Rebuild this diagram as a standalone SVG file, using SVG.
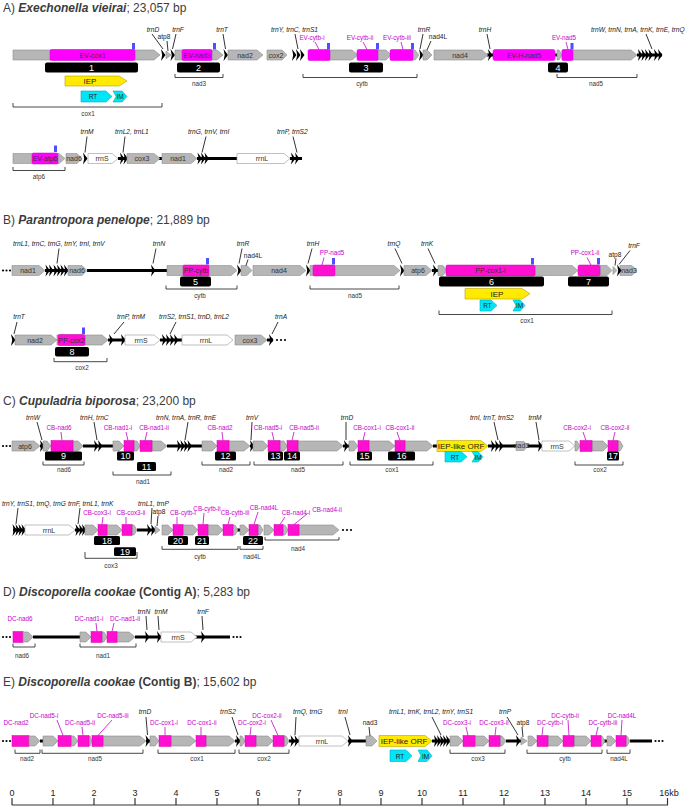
<svg xmlns="http://www.w3.org/2000/svg" width="685" height="807" viewBox="0 0 685 807">
<style>
text{font-family:"Liberation Sans",Arial,Helvetica,sans-serif}
.ti{font-size:12px;fill:#3c3c3c}
.bi{font-weight:bold;font-style:italic}
.bd{font-weight:bold}
.g{fill:#b6b6b6;stroke:#8e8e8e;stroke-width:.6}
.w{fill:#fff;stroke:#a6a6a6;stroke-width:.7}
.p{fill:#ff00ff;stroke:#d000d0;stroke-width:.5}
.q{fill:#ff10d0;stroke:#d000b0;stroke-width:.5}
.bl{fill:#4f4fff}
.bx{fill:#000}
.y{fill:#ffea00;stroke:#b5a300;stroke-width:.6}
.c{fill:#00e6f6;stroke:#00b0c0;stroke-width:.6}
.sp{stroke:#000;stroke-width:3}
.ld{stroke:#000;stroke-width:.8}
.lm{stroke:#c800c8;stroke-width:.8}
.br{fill:none;stroke:#333;stroke-width:.9}
.tr{font-size:6.6px;font-style:italic;fill:#222}
.up{font-size:6.6px;fill:#222}
.mg{font-size:6.3px;fill:#c800c8}
.gt{font-size:7px;fill:#333;text-anchor:middle}
.bn{font-size:9px;fill:#fff;text-anchor:middle}
.bt{font-size:6.3px;fill:#333;text-anchor:middle}
.m{text-anchor:middle}
.ax{stroke:#333;stroke-width:1.2}
.at{font-size:9px;fill:#222;text-anchor:middle}
</style>
<defs><path id="tr" d="M-2,-6L2.5,0L-2,6L-0.8,0Z" fill="#000"/></defs>

<text class="ti" x="3" y="12">A) <tspan class="bi">Exechonella vieirai</tspan>; 23,057 bp</text>
<g id="A1" transform="translate(0,55)">
 <g id="A1-spacers"><line class="sp" x1="487" y1="0" x2="493" y2="0"/><line class="sp" x1="554" y1="0" x2="558" y2="0"/><line class="sp" x1="637" y1="0" x2="662" y2="0"/></g>
 <g id="A-cox1"><polygon class="g" points="13,-5 154,-5 160,0 154,5 13,5"/><rect class="p" x="50" y="-5.5" width="85" height="11" rx="1.5"/><text class="gt" x="92.5" y="2.5">EV-cox1</text><rect class="bl" x="132" y="-12" width="3" height="6.5"/></g>
 <g id="A-trnD"><use href="#tr" x="163"/></g>
 <g id="A-atp8"><polygon class="g" points="166,-4 171,0 166,4"/></g>
 <g id="A-trnF"><use href="#tr" x="172.5"/></g>
 <g id="A-nad3"><polygon class="g" points="175,-5 217,-5 223,0 217,5 175,5"/><rect class="p" x="182" y="-5.5" width="30" height="11" rx="1.5"/><text class="gt" x="197" y="2.5">EV-nad3</text><rect class="bl" x="213" y="-12" width="3" height="6.5"/></g>
 <g id="A-trnT"><use href="#tr" x="225.5"/></g>
 <g id="A-nad2"><polygon class="g" points="228,-5 257,-5 263,0 257,5 228,5"/><text class="gt" x="245" y="2.5">nad2</text></g>
 <g id="A-cox2"><polygon class="g" points="267,-5 282,-5 287,0 282,5 267,5"/><text class="gt" x="276" y="2.5">cox2</text></g>
 <g id="A-trnYCS1"><use href="#tr" x="294"/><use href="#tr" x="298"/><use href="#tr" x="302"/></g>
 <g id="A-cytb"><polygon class="g" points="325,-5 352,-5 358,0 352,5 325,5"/><polygon class="g" points="375,-5 386,-5 391,0 386,5 375,5"/><polygon class="g" points="410,-5 415,-5 419,0 415,5 410,5"/><rect class="p" x="308" y="-5.5" width="22" height="11" rx="1.5"/><rect class="p" x="357" y="-5.5" width="21" height="11" rx="1.5"/><rect class="p" x="390" y="-5.5" width="23" height="11" rx="1.5"/><rect class="bl" x="327" y="-12" width="3" height="6.5"/><rect class="bl" x="376" y="-12" width="3" height="6.5"/><rect class="bl" x="411" y="-12" width="3" height="6.5"/></g>
 <g id="A-trnR"><use href="#tr" x="421"/></g>
 <g id="A-nad4L"><polygon class="g" points="423,-5 427,-5 432,0 427,5 423,5"/></g>
 <g id="A-nad4"><polygon class="g" points="434,-5 482,-5 488,0 482,5 434,5"/><text class="gt" x="460" y="2.5">nad4</text></g>
 <g id="A-trnH"><use href="#tr" x="490"/></g>
 <g id="A-EV-H-nad5"><rect class="p" x="493" y="-5.5" width="62" height="11" rx="2"/><text class="gt" x="524" y="2.5">EV-H-nad5</text></g>
 <g id="A-nad5"><polygon class="g" points="557,-5 559,-5 562,0 559,5 557,5"/><polygon class="g" points="562,-5 631,-5 637,0 631,5 562,5"/><rect class="p" x="562" y="-5.5" width="11" height="11" rx="1.5"/><rect class="bl" x="570.5" y="-12" width="3" height="6.5"/></g>
 <g id="A-trnWNAKEQ"><use href="#tr" x="640"/><use href="#tr" x="643.5"/><use href="#tr" x="647"/><use href="#tr" x="650.5"/><use href="#tr" x="656"/><use href="#tr" x="660"/></g>
 <g id="A-boxes"><rect class="bx" x="45" y="7.5" width="93" height="10" rx="2"/><text class="bn" x="91.5" y="15.8">1</text><rect class="bx" x="177" y="7.5" width="43" height="10" rx="2"/><text class="bn" x="198.5" y="15.8">2</text><rect class="bx" x="349" y="7.5" width="34" height="10" rx="2"/><text class="bn" x="366" y="15.8">3</text><rect class="bx" x="548" y="7.5" width="20" height="10" rx="2"/><text class="bn" x="558" y="15.8">4</text></g>
 <g id="A-IEP"><polygon class="y" points="65,21 119,21 127,26 119,31 65,31"/><text x="90" y="29" font-size="8" fill="#222" text-anchor="middle">IEP</text></g>
 <g id="A-RT"><polygon class="c" points="81,36 106,36 112,41.5 106,47 81,47"/><text x="93" y="44" font-size="6.5" fill="#222" text-anchor="middle">RT</text></g>
 <g id="A-IM"><polygon class="c" points="113,36 122,36 127,41.5 122,47 113,47 116,41.5"/><text x="120" y="44" font-size="6.5" fill="#222" text-anchor="middle">IM</text></g>
 <g id="A1-labels">
  <text class="tr m" x="153" y="-23.5">trnD</text>
  <text class="up m" x="164" y="-16.5">atp8</text>
  <text class="tr m" x="178" y="-23.5">trnF</text>
  <text class="tr m" x="222" y="-23.5">trnT</text>
  <text class="tr" x="271" y="-23.5">trnY, trnC, trnS1</text>
  <text class="mg m" x="312" y="-15.5">EV-cytb-i</text>
  <text class="mg m" x="360" y="-15.5">EV-cytb-ii</text>
  <text class="mg m" x="397" y="-15.5">EV-cytb-iii</text>
  <text class="tr m" x="424" y="-23.5">trnR</text>
  <text class="up m" x="438" y="-16.5">nad4L</text>
  <text class="tr m" x="485" y="-23.5">trnH</text>
  <text class="mg m" x="564" y="-15.5">EV-nad5</text>
  <text class="tr" x="591" y="-23.5">trnW, trnN, trnA, trnK, trnE, trnQ</text>
  <text class="bt" x="88" y="61">cox1</text>
  <text class="bt" x="199" y="31">nad3</text>
  <text class="bt" x="362" y="31">cytb</text>
  <text class="bt" x="596" y="31">nad5</text>
 </g>
 <g id="A1-connectors">
  <line class="ld" x1="152" y1="-21" x2="163" y2="-6"/>
  <line class="ld" x1="167" y1="-14" x2="168" y2="-4"/>
  <line class="ld" x1="176" y1="-21" x2="172.5" y2="-6"/>
  <line class="ld" x1="223" y1="-21" x2="225.5" y2="-6"/>
  <line class="ld" x1="295" y1="-21" x2="298" y2="-6"/>
  <line class="lm" x1="315" y1="-13" x2="319" y2="-5.5"/>
  <line class="lm" x1="363" y1="-13" x2="367" y2="-5.5"/>
  <line class="lm" x1="401" y1="-13" x2="403" y2="-5.5"/>
  <line class="ld" x1="423" y1="-21" x2="420" y2="-6"/>
  <line class="ld" x1="431" y1="-14" x2="427" y2="-5"/>
  <line class="ld" x1="487" y1="-21" x2="490" y2="-6"/>
  <line class="lm" x1="566" y1="-13" x2="568" y2="-5.5"/>
  <line class="ld" x1="646" y1="-21" x2="652" y2="-6"/>
  <path class="br" d="M13,48V52H162V48"/>
  <path class="br" d="M175,19V22.5H223V19"/>
  <path class="br" d="M303,19V22.5H417V19"/>
  <path class="br" d="M557,19V22.5H637V19"/>
 </g>
</g>

<g id="A2" transform="translate(0,158.5)">
 <g id="A2-spacers"><line class="sp" x1="159" y1="0" x2="163" y2="0"/><line class="sp" x1="197" y1="0" x2="237" y2="0"/><line class="sp" x1="290" y1="0" x2="302" y2="0"/><line class="sp" x1="118" y1="0" x2="127" y2="0"/></g>
 <g id="A-atp6"><polygon class="g" points="13,-5 59,-5 65,0 59,5 13,5"/><rect class="p" x="32" y="-5.5" width="26" height="11" rx="1.5"/><text class="gt" x="45" y="2.5">EV-atp6</text><rect class="bl" x="54" y="-13" width="3" height="6.5"/></g>
 <g id="A-nad6"><polygon class="g" points="66,-5 77,-5 82,0 77,5 66,5"/><text class="gt" x="74" y="2.3" font-size="6.5">nad6</text></g>
 <g id="A-trnM"><use href="#tr" x="85"/></g>
 <g id="A-rrnS"><polygon class="w" points="88,-5 112,-5 118,0 112,5 88,5"/><text class="gt" x="102" y="2.5">rrnS</text></g>
 <g id="A-trnL2L1"><use href="#tr" x="122"/><use href="#tr" x="125.5"/></g>
 <g id="A-cox3"><polygon class="g" points="127,-5 154,-5 160,0 154,5 127,5"/><text class="gt" x="142" y="2.5">cox3</text></g>
 <g id="A-nad1"><polygon class="g" points="162,-5 191,-5 197,0 191,5 162,5"/><text class="gt" x="178" y="2.5">nad1</text></g>
 <g id="A-trnGVI"><use href="#tr" x="199.5"/><use href="#tr" x="203"/><use href="#tr" x="206.5"/></g>
 <g id="A-rrnL"><polygon class="w" points="237,-5 284,-5 290,0 284,5 237,5"/><text class="gt" x="262" y="2.5">rrnL</text></g>
 <g id="A-trnPS2"><use href="#tr" x="293"/><use href="#tr" x="297"/></g>
 <g id="A2-labels">
  <text class="tr m" x="87" y="-25">trnM</text>
  <text class="tr" x="115" y="-25">trnL2, trnL1</text>
  <text class="tr" x="188" y="-25">trnG, trnV, trnI</text>
  <text class="tr" x="277" y="-25">trnP, trnS2</text>
  <text class="bt" x="39" y="20.5">atp6</text>
 </g>
 <g id="A2-connectors">
  <line class="ld" x1="87" y1="-22" x2="85" y2="-6"/>
  <line class="ld" x1="125" y1="-22" x2="123" y2="-6"/>
  <line class="ld" x1="206" y1="-22" x2="202" y2="-6"/>
  <line class="ld" x1="293" y1="-22" x2="297" y2="-6"/>
  <path class="br" d="M13,8.5V12H65V8.5"/>
 </g>
</g>

<text class="ti" x="3" y="224">B) <tspan class="bi">Parantropora penelope</tspan>; 21,889 bp</text>
<g id="B1" transform="translate(0,270.5)">
 <g id="B1-spacers"><circle cx="3" cy="0" r="1.1"/><circle cx="6.5" cy="0" r="1.1"/><circle cx="10" cy="0" r="1.1"/><line class="sp" x1="45" y1="0" x2="68" y2="0"/><line class="sp" x1="87" y1="0" x2="167" y2="0"/><line class="sp" x1="432" y1="0" x2="438" y2="0"/></g>
 <g id="B-nad1"><polygon class="g" points="12,-5 39,-5 45,0 39,5 12,5"/><text class="gt" x="28" y="2.5">nad1</text></g>
 <g id="B-trnL1CGYIV"><use href="#tr" x="47.5"/><use href="#tr" x="51"/><use href="#tr" x="55.5"/><use href="#tr" x="59"/><use href="#tr" x="62.5"/><use href="#tr" x="66"/></g>
 <g id="B-nad6"><polygon class="g" points="68,-5 82,-5 87,0 82,5 68,5"/><text class="gt" x="77" y="2.3" font-size="6.5">nad6</text></g>
 <g id="B-trnN"><use href="#tr" x="153"/></g>
 <g id="B-cytb"><polygon class="g" points="167,-5 231,-5 237,0 231,5 167,5"/><rect class="q" x="183" y="-5.5" width="26" height="11" rx="1.5"/><text class="gt" x="196" y="2.5">PP-cytb</text><rect class="bl" x="206" y="-12.5" width="3" height="6.5"/></g>
 <g id="B-trnR"><use href="#tr" x="239"/></g>
 <g id="B-nad4L"><polygon class="g" points="241,-5 247,-5 252,0 247,5 241,5"/></g>
 <g id="B-nad4"><polygon class="g" points="253,-5 300,-5 306,0 300,5 253,5"/><text class="gt" x="279" y="2.5">nad4</text></g>
 <g id="B-trnH"><use href="#tr" x="308"/></g>
 <g id="B-nad5"><polygon class="g" points="310,-5 394,-5 400,0 394,5 310,5"/><rect class="q" x="313" y="-5.5" width="22" height="11" rx="1.5"/><rect class="bl" x="332" y="-12.5" width="3" height="6.5"/></g>
 <g id="B-trnQ"><use href="#tr" x="402"/></g>
 <g id="B-atp6"><polygon class="g" points="404,-5 426,-5 432,0 426,5 404,5"/><text class="gt" x="418" y="2.5">atp6</text></g>
 <g id="B-trnK"><use href="#tr" x="435"/></g>
 <g id="B-cox1"><polygon class="g" points="438,-5 443,-5 447,0 443,5 438,5"/><polygon class="g" points="535,-5 572,-5 578,0 572,5 535,5"/><polygon class="g" points="600,-5 607,-5 612,0 607,5 600,5"/><rect class="q" x="446" y="-5.5" width="89" height="11" rx="1.5"/><text class="gt" x="490.5" y="2.5">PP-cox1-i</text><rect class="q" x="578" y="-5.5" width="22" height="11" rx="1.5"/><rect class="bl" x="531" y="-12.5" width="3" height="6.5"/><rect class="bl" x="597" y="-12.5" width="3" height="6.5"/></g>
 <g id="B-atp8"><polygon class="g" points="613,-4 617,0 613,4"/></g>
 <g id="B-nad3"><polygon class="g" points="620,-5 632,-5 637,0 632,5 620,5"/><text class="gt" x="629" y="2.2" font-size="6">nad3</text></g>
 <g id="B-trnF"><use href="#tr" x="619"/></g>
 <g id="B-boxes"><rect class="bx" x="180" y="6" width="31" height="10" rx="2"/><text class="bn" x="195.5" y="14.3">5</text><rect class="bx" x="439" y="6" width="105" height="10" rx="2"/><text class="bn" x="491.5" y="14.3">6</text><rect class="bx" x="568" y="6" width="41" height="10" rx="2"/><text class="bn" x="588.5" y="14.3">7</text></g>
 <g id="B-IEP"><polygon class="y" points="465,18 522,18 530,23.25 522,28.5 465,28.5"/><text x="497" y="26.3" font-size="8" fill="#222" text-anchor="middle">IEP</text></g>
 <g id="B-RT"><polygon class="c" points="480,29.5 491,29.5 497,35 491,40.5 480,40.5"/><text x="487.5" y="37.5" font-size="6.5" fill="#222" text-anchor="middle">RT</text></g>
 <g id="B-IM"><polygon class="c" points="513,29.5 520,29.5 525,35 520,40.5 513,40.5 516,35"/><text x="519.5" y="37.5" font-size="6.5" fill="#222" text-anchor="middle">IM</text></g>
 <g id="B1-labels">
  <text class="tr" x="13" y="-25">trnL1, trnC, trnG, trnY, trnI, trnV</text>
  <text class="tr m" x="159" y="-25">trnN</text>
  <text class="tr m" x="243" y="-25">trnR</text>
  <text class="up m" x="253" y="-13">nad4L</text>
  <text class="tr m" x="313" y="-25">trnH</text>
  <text class="mg m" x="332" y="-15.5">PP-nad5</text>
  <text class="tr m" x="394" y="-25">trnQ</text>
  <text class="tr m" x="427" y="-25">trnK</text>
  <text class="mg m" x="585" y="-15.5">PP-cox1-ii</text>
  <text class="up m" x="615" y="-14">atp8</text>
  <text class="tr m" x="634" y="-22.5">trnF</text>
  <text class="bt" x="200" y="27">cytb</text>
  <text class="bt" x="355" y="27">nad5</text>
  <text class="bt" x="527" y="52">cox1</text>
 </g>
 <g id="B1-connectors">
  <line class="ld" x1="59" y1="-22" x2="57" y2="-7"/>
  <line class="ld" x1="156" y1="-22" x2="153" y2="-7"/>
  <line class="ld" x1="242" y1="-22" x2="239" y2="-7"/>
  <line class="ld" x1="248" y1="-11" x2="246" y2="-5"/>
  <line class="ld" x1="312" y1="-22" x2="308" y2="-7"/>
  <line class="lm" x1="324" y1="-13" x2="322" y2="-5.5"/>
  <line class="ld" x1="395" y1="-22" x2="402" y2="-7"/>
  <line class="ld" x1="428" y1="-22" x2="435" y2="-7"/>
  <line class="lm" x1="587" y1="-13" x2="591" y2="-5.5"/>
  <line class="ld" x1="616" y1="-12" x2="615" y2="-5"/>
  <line class="ld" x1="630" y1="-20" x2="619" y2="-6"/>
  <path class="br" d="M166,15V18.5H237V15"/>
  <path class="br" d="M310,15V18.5H399V15"/>
  <path class="br" d="M439,40V44H612V40"/>
 </g>
</g>

<g id="B2" transform="translate(0,340)">
 <g id="B2-spacers"><line class="sp" x1="108" y1="0" x2="125" y2="0"/><line class="sp" x1="160" y1="0" x2="182" y2="0"/><line class="sp" x1="267" y1="0" x2="273" y2="0"/><circle cx="277" cy="0" r="1.1"/><circle cx="281" cy="0" r="1.1"/><circle cx="285" cy="0" r="1.1"/></g>
 <g id="B-trnT"><use href="#tr" x="13"/></g>
 <g id="B-nad2"><polygon class="g" points="15,-5 51,-5 57,0 51,5 15,5"/><text class="gt" x="35" y="2.5">nad2</text></g>
 <g id="B-cox2"><polygon class="g" points="57,-5 102,-5 108,0 102,5 57,5"/><rect class="q" x="58" y="-5.5" width="27" height="11" rx="1.5"/><text class="gt" x="71.5" y="2.5">PP-cox2</text><rect class="bl" x="82" y="-12.5" width="3" height="6.5"/></g>
 <g id="B-trnPM"><use href="#tr" x="111"/><use href="#tr" x="123"/></g>
 <g id="B-rrnS"><polygon class="w" points="125,-5 154,-5 160,0 154,5 125,5"/><text class="gt" x="141" y="2.5">rrnS</text></g>
 <g id="B-trnS2S1DL2"><use href="#tr" x="164"/><use href="#tr" x="168"/><use href="#tr" x="172"/><use href="#tr" x="176"/></g>
 <g id="B-rrnL"><polygon class="w" points="182,-5 227,-5 233,0 227,5 182,5"/><text class="gt" x="206" y="2.5">rrnL</text></g>
 <g id="B-cox3"><polygon class="g" points="235,-5 261,-5 267,0 261,5 235,5"/><text class="gt" x="250" y="2.5">cox3</text></g>
 <g id="B-trnA"><use href="#tr" x="271"/></g>
 <g id="B-box8"><rect class="bx" x="55" y="7" width="34" height="9.5" rx="2"/><text class="bn" x="72" y="15">8</text></g>
 <g id="B2-labels">
  <text class="tr m" x="19" y="-21">trnT</text>
  <text class="tr" x="117" y="-21">trnP, trnM</text>
  <text class="tr" x="159" y="-21">trnS2, trnS1, trnD, trnL2</text>
  <text class="tr m" x="281" y="-21">trnA</text>
  <text class="bt" x="82" y="30">cox2</text>
 </g>
 <g id="B2-connectors">
  <line class="ld" x1="17" y1="-18" x2="14" y2="-6"/>
  <line class="ld" x1="124" y1="-18" x2="114" y2="-6"/>
  <line class="ld" x1="176" y1="-18" x2="170" y2="-6"/>
  <line class="ld" x1="278" y1="-18" x2="272" y2="-6"/>
  <path class="br" d="M54,18V21.7H107V18"/>
 </g>
</g>

<text class="ti" x="3" y="404.5">C) <tspan class="bi">Cupuladria biporosa</tspan>; 23,200 bp</text>
<g id="C1" transform="translate(0,446)">
 <g id="C1-spacers"><circle cx="3" cy="0" r="1.1"/><circle cx="6.5" cy="0" r="1.1"/><circle cx="10" cy="0" r="1.1"/><line class="sp" x1="40" y1="0" x2="43" y2="0"/><line class="sp" x1="83" y1="0" x2="113" y2="0"/><line class="sp" x1="167" y1="0" x2="202" y2="0"/><line class="sp" x1="250" y1="0" x2="253" y2="0"/><line class="sp" x1="343" y1="0" x2="349" y2="0"/><line class="sp" x1="433" y1="0" x2="437" y2="0"/><line class="sp" x1="488" y1="0" x2="542" y2="0"/></g>
 <g id="C-atp6"><polygon class="g" points="12,-5 34,-5 40,0 34,5 12,5"/><text class="gt" x="25" y="2.5">atp6</text></g>
 <g id="C-trnW"><use href="#tr" x="42"/></g>
 <g id="C-nad6"><polygon class="g" points="43,-5 47,-5 51,0 47,5 43,5"/><polygon class="g" points="73,-5 78,-5 83,0 78,5 73,5"/><rect class="q" x="51" y="-5.5" width="22" height="11"/></g>
 <g id="C-trnHC"><use href="#tr" x="96"/><use href="#tr" x="100"/></g>
 <g id="C-nad1"><polygon class="g" points="113,-5 119,-5 124,0 119,5 113,5"/><polygon class="g" points="134,-5 137,-5 140,0 137,5 134,5"/><polygon class="g" points="152,-5 161,-5 167,0 161,5 152,5"/><rect class="q" x="124" y="-5.5" width="10" height="11"/><rect class="q" x="140" y="-5.5" width="12" height="11"/></g>
 <g id="C-trnNARE"><use href="#tr" x="179"/><use href="#tr" x="182.5"/><use href="#tr" x="186"/><use href="#tr" x="189.5"/></g>
 <g id="C-nad2"><polygon class="g" points="202,-5 212,-5 217,0 212,5 202,5"/><polygon class="g" points="229,-5 244,-5 250,0 244,5 229,5"/><rect class="q" x="217" y="-5.5" width="12" height="11"/></g>
 <g id="C-trnV"><use href="#tr" x="252"/></g>
 <g id="C-nad5"><polygon class="g" points="253,-5 263,-5 268,0 263,5 253,5"/><polygon class="g" points="280,-5 284,-5 287,0 284,5 280,5"/><polygon class="g" points="298,-5 337,-5 343,0 337,5 298,5"/><rect class="q" x="268" y="-5.5" width="12" height="11"/><rect class="q" x="287" y="-5.5" width="11" height="11"/></g>
 <g id="C-trnD"><use href="#tr" x="346"/></g>
 <g id="C-cox1"><polygon class="g" points="349,-5 354,-5 358,0 354,5 349,5"/><polygon class="g" points="369,-5 389,-5 395,0 389,5 369,5"/><polygon class="g" points="405,-5 427,-5 433,0 427,5 405,5"/><rect class="q" x="358" y="-5.5" width="11" height="11"/><rect class="q" x="395" y="-5.5" width="10" height="11"/></g>
 <g id="C-IEP"><polygon class="y" points="437,-5.5 481,-5.5 488,0 481,5.5 437,5.5"/><text x="461" y="3" font-size="8" fill="#222" text-anchor="middle">IEP-like ORF</text></g>
 <g id="C-trnITS2"><use href="#tr" x="493"/><use href="#tr" x="497"/><use href="#tr" x="501"/></g>
 <g id="C-nad3"><polygon class="g" points="516,-4.5 524,-4.5 528,0 524,4.5 516,4.5"/><text class="gt" x="521.5" y="1.8" font-size="4.5">nad3</text></g>
 <g id="C-trnM"><use href="#tr" x="540"/></g>
 <g id="C-rrnS"><polygon class="w" points="542,-5 569,-5 575,0 569,5 542,5"/><text class="gt" x="557" y="2.5">rrnS</text></g>
 <g id="C-cox2"><polygon class="g" points="575,-5 577,-5 580,0 577,5 575,5"/><polygon class="g" points="592,-5 603,-5 608,0 603,5 592,5"/><polygon class="g" points="618,-5 620,-5 623,0 620,5 618,5"/><rect class="q" x="580" y="-5.5" width="12" height="11"/><rect class="q" x="608" y="-5.5" width="10" height="11"/></g>
 <g id="C-boxes">
  <rect class="bx" x="45" y="5.5" width="37" height="9" rx="1.5"/><text class="bn" x="63.5" y="13.3">9</text>
  <rect class="bx" x="117" y="5.5" width="17" height="9" rx="1.5"/><text class="bn" x="125.5" y="13.3">10</text>
  <rect class="bx" x="137" y="16" width="19" height="9" rx="1.5"/><text class="bn" x="146.5" y="23.8">11</text>
  <rect class="bx" x="215" y="5.5" width="21" height="9" rx="1.5"/><text class="bn" x="225.5" y="13.3">12</text>
  <rect class="bx" x="268" y="5.5" width="15" height="9" rx="1.5"/><text class="bn" x="275.5" y="13.3">13</text>
  <rect class="bx" x="284" y="5.5" width="16" height="9" rx="1.5"/><text class="bn" x="292" y="13.3">14</text>
  <rect class="bx" x="357" y="5.5" width="15" height="9" rx="1.5"/><text class="bn" x="364.5" y="13.3">15</text>
  <rect class="bx" x="388" y="5.5" width="27" height="9" rx="1.5"/><text class="bn" x="401.5" y="13.3">16</text>
  <rect class="bx" x="607" y="5.5" width="12" height="9" rx="1.5"/><text class="bn" x="613" y="13.3">17</text>
 </g>
 <g id="C-RT"><polygon class="c" points="445,5.5 461,5.5 467,10.75 461,16 445,16"/><text x="455" y="13.5" font-size="6.5" fill="#222" text-anchor="middle">RT</text></g>
 <g id="C-IM"><polygon class="c" points="472,5.5 478,5.5 483,10.75 478,16 472,16 475,10.75"/><text x="478" y="13.5" font-size="6.5" fill="#222" text-anchor="middle">IM</text></g>
 <g id="C1-labels">
  <text class="tr m" x="33" y="-26">trnW</text>
  <text class="mg m" x="59" y="-16.5">CB-nad6</text>
  <text class="tr" x="80" y="-26">trnH, trnC</text>
  <text class="mg m" x="118" y="-16.5">CB-nad1-i</text>
  <text class="mg m" x="154" y="-16.5">CB-nad1-ii</text>
  <text class="tr" x="156" y="-26">trnN, trnA, trnR, trnE</text>
  <text class="mg m" x="220" y="-16.5">CB-nad2</text>
  <text class="tr m" x="252" y="-26">trnV</text>
  <text class="mg m" x="268" y="-16.5">CB-nad5-i</text>
  <text class="mg m" x="304" y="-16.5">CB-nad5-ii</text>
  <text class="tr m" x="347" y="-26">trnD</text>
  <text class="mg m" x="367" y="-16.5">CB-cox1-i</text>
  <text class="mg m" x="400" y="-16.5">CB-cox1-ii</text>
  <text class="tr" x="470" y="-26">trnI, trnT, trnS2</text>
  <text class="tr m" x="535" y="-26">trnM</text>
  <text class="mg m" x="577" y="-16.5">CB-cox2-i</text>
  <text class="mg m" x="615" y="-16.5">CB-cox2-ii</text>
  <text class="bt" x="64" y="26">nad6</text>
  <text class="bt" x="143" y="37.5">nad1</text>
  <text class="bt" x="226" y="26">nad2</text>
  <text class="bt" x="298" y="26">nad5</text>
  <text class="bt" x="392" y="26">cox1</text>
  <text class="bt" x="600" y="26">cox2</text>
 </g>
 <g id="C1-connectors">
  <line class="ld" x1="37" y1="-24" x2="42" y2="-6"/>
  <line class="lm" x1="61" y1="-14" x2="62" y2="-5.5"/>
  <line class="ld" x1="94" y1="-24" x2="97" y2="-6"/>
  <line class="lm" x1="126" y1="-14" x2="128" y2="-5.5"/>
  <line class="lm" x1="147" y1="-14" x2="145" y2="-5.5"/>
  <line class="ld" x1="188" y1="-24" x2="185" y2="-6"/>
  <line class="lm" x1="222" y1="-14" x2="223" y2="-5.5"/>
  <line class="ld" x1="252" y1="-24" x2="251" y2="-6"/>
  <line class="lm" x1="272" y1="-14" x2="274" y2="-5.5"/>
  <line class="lm" x1="294" y1="-14" x2="292" y2="-5.5"/>
  <line class="ld" x1="346" y1="-24" x2="346" y2="-6"/>
  <line class="lm" x1="365" y1="-14" x2="363" y2="-5.5"/>
  <line class="lm" x1="397" y1="-14" x2="400" y2="-5.5"/>
  <line class="ld" x1="494" y1="-24" x2="498" y2="-6"/>
  <line class="ld" x1="536" y1="-24" x2="539" y2="-6"/>
  <line class="lm" x1="583" y1="-14" x2="586" y2="-5.5"/>
  <line class="lm" x1="615" y1="-14" x2="613" y2="-5.5"/>
  <path class="br" d="M43,15.5V19H84V15.5"/>
  <path class="br" d="M113,25.5V29H171V25.5"/>
  <path class="br" d="M202,15.5V19H250V15.5"/>
  <path class="br" d="M254,15.5V19H343V15.5"/>
  <path class="br" d="M350,15.5V19H433V15.5"/>
  <path class="br" d="M575,15.5V19H623V15.5"/>
 </g>
</g>

<g id="C2" transform="translate(0,530)">
 <g id="C2-spacers"><line class="sp" x1="13" y1="0" x2="25" y2="0"/><line class="sp" x1="75" y1="0" x2="85" y2="0"/><line class="sp" x1="137" y1="0" x2="155" y2="0"/><line class="sp" x1="237" y1="0" x2="241" y2="0"/><circle cx="343" cy="0" r="1.1"/><circle cx="347" cy="0" r="1.1"/><circle cx="351" cy="0" r="1.1"/></g>
 <g id="C-trnYS1QG"><use href="#tr" x="14.5"/><use href="#tr" x="17.5"/><use href="#tr" x="20.5"/><use href="#tr" x="23.5"/></g>
 <g id="C-rrnL"><polygon class="w" points="25,-5 69,-5 75,0 69,5 25,5"/><text class="gt" x="49" y="2.5">rrnL</text></g>
 <g id="C-trnFL1K"><use href="#tr" x="77.5"/><use href="#tr" x="81"/><use href="#tr" x="84"/></g>
 <g id="C-cox3"><polygon class="g" points="85,-5 93,-5 98,0 93,5 85,5"/><polygon class="g" points="107,-5 117,-5 122,0 117,5 107,5"/><polygon class="g" points="132,-5 134,-5 137,0 134,5 132,5"/><rect class="q" x="98" y="-5.5" width="9" height="11"/><rect class="q" x="122" y="-5.5" width="10" height="11"/></g>
 <g id="C-trnL1P"><use href="#tr" x="149"/><use href="#tr" x="153"/></g>
 <g id="C-atp8"><polygon class="g" points="155,-4 160,0 155,4"/></g>
 <g id="C-cytb"><polygon class="g" points="162,-5 168,-5 173,0 168,5 162,5"/><polygon class="g" points="183,-5 193,-5 198,0 193,5 183,5"/><polygon class="g" points="208,-5 218,-5 223,0 218,5 208,5"/><polygon class="g" points="233,-5 235,-5 238,0 235,5 233,5"/><rect class="q" x="173" y="-5.5" width="10" height="11"/><rect class="q" x="198" y="-5.5" width="10" height="11"/><rect class="q" x="223" y="-5.5" width="10" height="11"/></g>
 <g id="C-nad4L"><polygon class="g" points="240,-5 244,-5 249,0 244,5 240,5"/><polygon class="g" points="258,-5 260,-5 263,0 260,5 258,5"/><rect class="q" x="249" y="-5.5" width="9" height="11"/></g>
 <g id="C-nad4"><polygon class="g" points="264,-5 269,-5 274,0 269,5 264,5"/><polygon class="g" points="283,-5 285,-5 288,0 285,5 283,5"/><polygon class="g" points="299,-5 333,-5 339,0 333,5 299,5"/><rect class="q" x="274" y="-5.5" width="9" height="11"/><rect class="q" x="288" y="-5.5" width="11" height="11"/></g>
 <g id="C2-boxes">
  <rect class="bx" x="94" y="6" width="26" height="9" rx="1.5"/><text class="bn" x="107" y="13.8">18</text>
  <rect class="bx" x="114" y="17.3" width="22" height="8.7" rx="1.5"/><text class="bn" x="125" y="24.8">19</text>
  <rect class="bx" x="168" y="6" width="20" height="9" rx="1.5"/><text class="bn" x="178" y="13.8">20</text>
  <rect class="bx" x="195" y="6" width="14" height="9" rx="1.5"/><text class="bn" x="202" y="13.8">21</text>
  <rect class="bx" x="243" y="6" width="20" height="9" rx="1.5"/><text class="bn" x="253" y="13.8">22</text>
 </g>
 <g id="C2-labels">
  <text class="tr" x="2" y="-24.5">trnY, trnS1, trnQ, trnG</text>
  <text class="tr" x="68" y="-24.5">trnF, trnL1, trnK</text>
  <text class="tr" x="138" y="-24.5">trnL1, trnP</text>
  <text class="up m" x="159" y="-16">atp8</text>
  <text class="mg m" x="97" y="-15">CB-cox3-i</text>
  <text class="mg m" x="131" y="-15">CB-cox3-ii</text>
  <text class="mg m" x="183" y="-15">CB-cytb-i</text>
  <text class="mg m" x="207" y="-19">CB-cytb-ii</text>
  <text class="mg m" x="235" y="-15">CB-cytb-iii</text>
  <text class="mg m" x="264" y="-20">CB-nad4L</text>
  <text class="mg m" x="296" y="-15">CB-nad4-i</text>
  <text class="mg m" x="327" y="-18">CB-nad4-ii</text>
  <text class="bt" x="298" y="20.5">nad4</text>
  <text class="bt" x="200" y="29">cytb</text>
  <text class="bt" x="252" y="29">nad4L</text>
  <text class="bt" x="111" y="38">cox3</text>
 </g>
 <g id="C2-connectors">
  <line class="ld" x1="18" y1="-22" x2="16" y2="-6"/>
  <line class="ld" x1="80" y1="-22" x2="78" y2="-6"/>
  <line class="ld" x1="152" y1="-22" x2="151" y2="-6"/>
  <line class="ld" x1="158" y1="-14" x2="157" y2="-4"/>
  <line class="lm" x1="103" y1="-13" x2="102" y2="-5.5"/>
  <line class="lm" x1="126" y1="-13" x2="126" y2="-5.5"/>
  <line class="lm" x1="177" y1="-13" x2="177" y2="-5.5"/>
  <line class="lm" x1="204" y1="-17" x2="203" y2="-5.5"/>
  <line class="lm" x1="230" y1="-13" x2="228" y2="-5.5"/>
  <line class="lm" x1="258" y1="-18" x2="254" y2="-5.5"/>
  <line class="lm" x1="285" y1="-13" x2="280" y2="-5.5"/>
  <line class="lm" x1="307" y1="-16" x2="294" y2="-5.5"/>
  <path class="br" d="M265,7V10H339V7"/>
  <path class="br" d="M162,16V19.3H238V16"/>
  <path class="br" d="M240,16V19.3H263V16"/>
  <path class="br" d="M85,22V28.3H137V22"/>
 </g>
</g>

<text class="ti" x="3" y="596">D) <tspan class="bi">Discoporella cookae</tspan><tspan class="bd"> (Contig A)</tspan>; 5,283 bp</text>
<g id="D1" transform="translate(0,637)">
 <g id="D-spacers"><circle cx="3" cy="0" r="1.1"/><circle cx="6.5" cy="0" r="1.1"/><circle cx="10" cy="0" r="1.1"/><line class="sp" x1="33" y1="0" x2="80" y2="0"/><line class="sp" x1="135" y1="0" x2="230" y2="0"/><circle cx="233.5" cy="0" r="1.1"/><circle cx="237" cy="0" r="1.1"/><circle cx="240.5" cy="0" r="1.1"/></g>
 <g id="D-nad6"><rect class="q" x="13" y="-5.5" width="10" height="11"/><polygon class="g" points="23,-5 28,-5 33,0 28,5 23,5"/></g>
 <g id="D-nad1"><polygon class="g" points="80,-5 86,-5 91,0 86,5 80,5"/><polygon class="g" points="102,-5 104,-5 107,0 104,5 102,5"/><polygon class="g" points="117,-5 129,-5 135,0 129,5 117,5"/><rect class="q" x="91" y="-5.5" width="11" height="11"/><rect class="q" x="107" y="-5.5" width="10" height="11"/></g>
 <g id="D-trnN"><use href="#tr" x="147"/></g>
 <g id="D-trnM"><use href="#tr" x="159"/></g>
 <g id="D-rrnS"><polygon class="w" points="161,-5 191,-5 197,0 191,5 161,5"/><text class="gt" x="178" y="2.5">rrnS</text></g>
 <g id="D-trnF"><use href="#tr" x="203"/></g>
 <g id="D-labels">
  <text class="tr m" x="144" y="-23.5">trnN</text>
  <text class="tr m" x="161" y="-23.5">trnM</text>
  <text class="tr m" x="203" y="-23.5">trnF</text>
  <text class="mg m" x="20" y="-16.5">DC-nad6</text>
  <text class="mg m" x="89" y="-16.5">DC-nad1-i</text>
  <text class="mg m" x="125" y="-16.5">DC-nad1-ii</text>
  <text class="bt" x="22" y="20.5">nad6</text>
  <text class="bt" x="103" y="20.5">nad1</text>
 </g>
 <g id="D-connectors">
  <line class="ld" x1="146" y1="-21" x2="147" y2="-7"/>
  <line class="ld" x1="158" y1="-21" x2="159" y2="-7"/>
  <line class="ld" x1="202" y1="-21" x2="203" y2="-7"/>
  <line class="lm" x1="96" y1="-14" x2="97" y2="-5.5"/>
  <line class="lm" x1="114" y1="-14" x2="112" y2="-5.5"/>
  <path class="br" d="M13,6.5V10H35V6.5"/>
  <path class="br" d="M80,6.5V10H136V6.5"/>
 </g>
</g>

<text class="ti" x="3" y="685.5">E) <tspan class="bi">Discoporella cookae</tspan><tspan class="bd"> (Contig B)</tspan>; 15,602 bp</text>
<g id="E1" transform="translate(0,741)">
 <g id="E-spacers"><circle cx="3" cy="0" r="1.1"/><circle cx="6.5" cy="0" r="1.1"/><circle cx="10" cy="0" r="1.1"/><line class="sp" x1="40" y1="0" x2="43" y2="0"/><line class="sp" x1="146" y1="0" x2="150" y2="0"/><line class="sp" x1="235" y1="0" x2="240" y2="0"/><line class="sp" x1="289" y1="0" x2="299" y2="0"/><line class="sp" x1="348" y1="0" x2="366" y2="0"/><line class="sp" x1="432" y1="0" x2="450" y2="0"/><line class="sp" x1="506" y1="0" x2="521" y2="0"/><line class="sp" x1="604" y1="0" x2="607" y2="0"/><line class="sp" x1="630" y1="0" x2="652" y2="0"/><circle cx="655.5" cy="0" r="1.1"/><circle cx="659" cy="0" r="1.1"/><circle cx="662.5" cy="0" r="1.1"/></g>
 <g id="E-nad2"><rect class="q" x="12" y="-5.5" width="17" height="11"/><polygon class="g" points="29,-5 35,-5 40,0 35,5 29,5"/></g>
 <g id="E-nad5"><polygon class="g" points="43,-5 53,-5 58,0 53,5 43,5"/><polygon class="g" points="71,-5 74,-5 78,0 74,5 71,5"/><polygon class="g" points="89,-5 90,-5 92,0 90,5 89,5"/><polygon class="g" points="103,-5 140,-5 146,0 140,5 103,5"/><rect class="q" x="58" y="-5.5" width="13" height="11"/><rect class="q" x="78" y="-5.5" width="11" height="11"/><rect class="q" x="92" y="-5.5" width="11" height="11"/></g>
 <g id="E-trnD"><use href="#tr" x="147.5"/></g>
 <g id="E-cox1"><polygon class="g" points="150,-5 155,-5 159,0 155,5 150,5"/><polygon class="g" points="171,-5 190,-5 196,0 190,5 171,5"/><polygon class="g" points="206,-5 229,-5 235,0 229,5 206,5"/><rect class="q" x="159" y="-5.5" width="12" height="11"/><rect class="q" x="196" y="-5.5" width="10" height="11"/></g>
 <g id="E-trnS2"><use href="#tr" x="238"/></g>
 <g id="E-cox2"><polygon class="g" points="240,-5 242,-5 245,0 242,5 240,5"/><polygon class="g" points="256,-5 268,-5 273,0 268,5 256,5"/><polygon class="g" points="284,-5 286,-5 289,0 286,5 284,5"/><rect class="q" x="245" y="-5.5" width="11" height="11"/><rect class="q" x="273" y="-5.5" width="11" height="11"/></g>
 <g id="E-trnQG"><use href="#tr" x="292.5"/><use href="#tr" x="296.5"/></g>
 <g id="E-rrnL"><polygon class="w" points="299,-5 342,-5 348,0 342,5 299,5"/><text class="gt" x="322" y="2.5">rrnL</text></g>
 <g id="E-trnI"><use href="#tr" x="350"/></g>
 <g id="E-nad3"><polygon class="g" points="366,-5 372,-5 377,0 372,5 366,5"/></g>
 <g id="E-IEP"><polygon class="y" points="379,-5.5 425,-5.5 432,0 425,5.5 379,5.5"/><text x="404" y="3" font-size="8" fill="#222" text-anchor="middle">IEP-like ORF</text></g>
 <g id="E-trnL1KL2YS1"><use href="#tr" x="436"/><use href="#tr" x="439"/><use href="#tr" x="442"/><use href="#tr" x="445"/><use href="#tr" x="448"/></g>
 <g id="E-cox3"><polygon class="g" points="450,-5 458,-5 463,0 458,5 450,5"/><polygon class="g" points="475,-5 484,-5 489,0 484,5 475,5"/><polygon class="g" points="500,-5 502,-5 506,0 502,5 500,5"/><rect class="q" x="463" y="-5.5" width="12" height="11"/><rect class="q" x="489" y="-5.5" width="11" height="11"/></g>
 <g id="E-trnP"><use href="#tr" x="518"/></g>
 <g id="E-atp8"><polygon class="g" points="521,-4 527,0 521,4"/></g>
 <g id="E-cytb"><polygon class="g" points="528,-5 532,-5 537,0 532,5 528,5"/><polygon class="g" points="548,-5 558,-5 563,0 558,5 548,5"/><polygon class="g" points="574,-5 586,-5 591,0 586,5 574,5"/><polygon class="g" points="601,-5 602,-5 605,0 602,5 601,5"/><rect class="q" x="537" y="-5.5" width="11" height="11"/><rect class="q" x="563" y="-5.5" width="11" height="11"/><rect class="q" x="591" y="-5.5" width="10" height="11"/></g>
 <g id="E-nad4L"><polygon class="g" points="607,-5 611,-5 616,0 611,5 607,5"/><polygon class="g" points="626,-5 627,-5 630,0 627,5 626,5"/><rect class="q" x="616" y="-5.5" width="10" height="11"/></g>
 <g id="E-RT"><polygon class="c" points="390,9 406,9 412,14.75 406,20.5 390,20.5"/><text x="400" y="17.5" font-size="6.5" fill="#222" text-anchor="middle">RT</text></g>
 <g id="E-IM"><polygon class="c" points="418,9 427,9 432,14.75 427,20.5 418,20.5 421,14.75"/><text x="425.5" y="17.5" font-size="6.5" fill="#222" text-anchor="middle">IM</text></g>
 <g id="E-labels">
  <text class="tr m" x="145" y="-27">trnD</text>
  <text class="tr m" x="228" y="-27">trnS2</text>
  <text class="tr" x="293" y="-27">trnQ, trnG</text>
  <text class="tr m" x="343" y="-27">trnI</text>
  <text class="tr" x="389" y="-27">trnL1, trnK, trnL2, trnY, trnS1</text>
  <text class="tr m" x="505" y="-27">trnP</text>
  <text class="up m" x="370" y="-16.5">nad3</text>
  <text class="up m" x="523" y="-16.5">atp8</text>
  <text class="mg m" x="16" y="-16.5">DC-nad2</text>
  <text class="mg m" x="44" y="-23">DC-nad5-i</text>
  <text class="mg m" x="80" y="-16.5">DC-nad5-ii</text>
  <text class="mg m" x="113" y="-23">DC-nad5-iii</text>
  <text class="mg m" x="164" y="-16.5">DC-cox1-i</text>
  <text class="mg m" x="202" y="-16.5">DC-cox1-ii</text>
  <text class="mg m" x="252" y="-16.5">DC-cox2-i</text>
  <text class="mg m" x="267" y="-23">DC-cox2-ii</text>
  <text class="mg m" x="457" y="-16.5">DC-cox3-i</text>
  <text class="mg m" x="494" y="-16.5">DC-cox3-ii</text>
  <text class="mg m" x="550" y="-16.5">DC-cytb-i</text>
  <text class="mg m" x="565" y="-23">DC-cytb-ii</text>
  <text class="mg m" x="603" y="-16.5">DC-cytb-iii</text>
  <text class="mg m" x="622" y="-23">DC-nad4L</text>
  <text class="bt" x="27" y="20">nad2</text>
  <text class="bt" x="95" y="20">nad5</text>
  <text class="bt" x="197" y="20">cox1</text>
  <text class="bt" x="264" y="20">cox2</text>
  <text class="bt" x="478" y="20">cox3</text>
  <text class="bt" x="565" y="20">cytb</text>
  <text class="bt" x="619" y="20">nad4L</text>
 </g>
 <g id="E-connectors">
  <line class="ld" x1="146" y1="-24" x2="147.5" y2="-6"/>
  <line class="ld" x1="232" y1="-24" x2="238" y2="-6"/>
  <line class="ld" x1="296" y1="-24" x2="295" y2="-6"/>
  <line class="ld" x1="345" y1="-24" x2="350" y2="-6"/>
  <line class="ld" x1="432" y1="-24" x2="441" y2="-6"/>
  <line class="ld" x1="507" y1="-24" x2="518" y2="-6"/>
  <line class="ld" x1="369" y1="-14" x2="370" y2="-5"/>
  <line class="ld" x1="522" y1="-14" x2="523" y2="-4"/>
  <line class="lm" x1="57" y1="-21" x2="63" y2="-5.5"/>
  <line class="lm" x1="82" y1="-14" x2="83" y2="-5.5"/>
  <line class="lm" x1="112" y1="-21" x2="98" y2="-5.5"/>
  <line class="lm" x1="165" y1="-14" x2="165" y2="-5.5"/>
  <line class="lm" x1="201" y1="-14" x2="201" y2="-5.5"/>
  <line class="lm" x1="251" y1="-14" x2="250" y2="-5.5"/>
  <line class="lm" x1="271" y1="-21" x2="278" y2="-5.5"/>
  <line class="lm" x1="466" y1="-14" x2="468" y2="-5.5"/>
  <line class="lm" x1="496" y1="-14" x2="495" y2="-5.5"/>
  <line class="lm" x1="543" y1="-14" x2="542" y2="-5.5"/>
  <line class="lm" x1="568" y1="-21" x2="569" y2="-5.5"/>
  <line class="lm" x1="598" y1="-14" x2="596" y2="-5.5"/>
  <line class="lm" x1="622" y1="-21" x2="621" y2="-5.5"/>
  <path class="br" d="M15,8.5V12.3H40V8.5"/>
  <path class="br" d="M42,8.5V12.3H143V8.5"/>
  <path class="br" d="M158,8.5V12.3H235V8.5"/>
  <path class="br" d="M239,8.5V12.3H289V8.5"/>
  <path class="br" d="M450,8.5V12.3H505V8.5"/>
  <path class="br" d="M527,8.5V12.3H602V8.5"/>
  <path class="br" d="M607,8.5V12.3H630V8.5"/>
 </g>
</g>

<g id="scale">
 <line class="ax" x1="12" y1="805" x2="668" y2="805"/>
 <g class="ax">
  <line x1="12" y1="798" x2="12" y2="805"/><line x1="53" y1="798" x2="53" y2="805"/><line x1="94" y1="798" x2="94" y2="805"/><line x1="135" y1="798" x2="135" y2="805"/><line x1="176" y1="798" x2="176" y2="805"/><line x1="217" y1="798" x2="217" y2="805"/><line x1="258" y1="798" x2="258" y2="805"/><line x1="299" y1="798" x2="299" y2="805"/><line x1="340" y1="798" x2="340" y2="805"/><line x1="381" y1="798" x2="381" y2="805"/><line x1="422" y1="798" x2="422" y2="805"/><line x1="463" y1="798" x2="463" y2="805"/><line x1="504" y1="798" x2="504" y2="805"/><line x1="545" y1="798" x2="545" y2="805"/><line x1="586" y1="798" x2="586" y2="805"/><line x1="627" y1="798" x2="627" y2="805"/><line x1="667.5" y1="798" x2="667.5" y2="805"/>
 </g>
 <text class="at" x="12" y="796">0</text><text class="at" x="53" y="796">1</text><text class="at" x="94" y="796">2</text><text class="at" x="135" y="796">3</text><text class="at" x="176" y="796">4</text><text class="at" x="217" y="796">5</text><text class="at" x="258" y="796">6</text><text class="at" x="299" y="796">7</text><text class="at" x="340" y="796">8</text><text class="at" x="381" y="796">9</text><text class="at" x="422" y="796">10</text><text class="at" x="463" y="796">11</text><text class="at" x="504" y="796">12</text><text class="at" x="545" y="796">13</text><text class="at" x="586" y="796">14</text><text class="at" x="627" y="796">15</text><text class="at" x="669" y="796">16kb</text>
</g>
</svg>
